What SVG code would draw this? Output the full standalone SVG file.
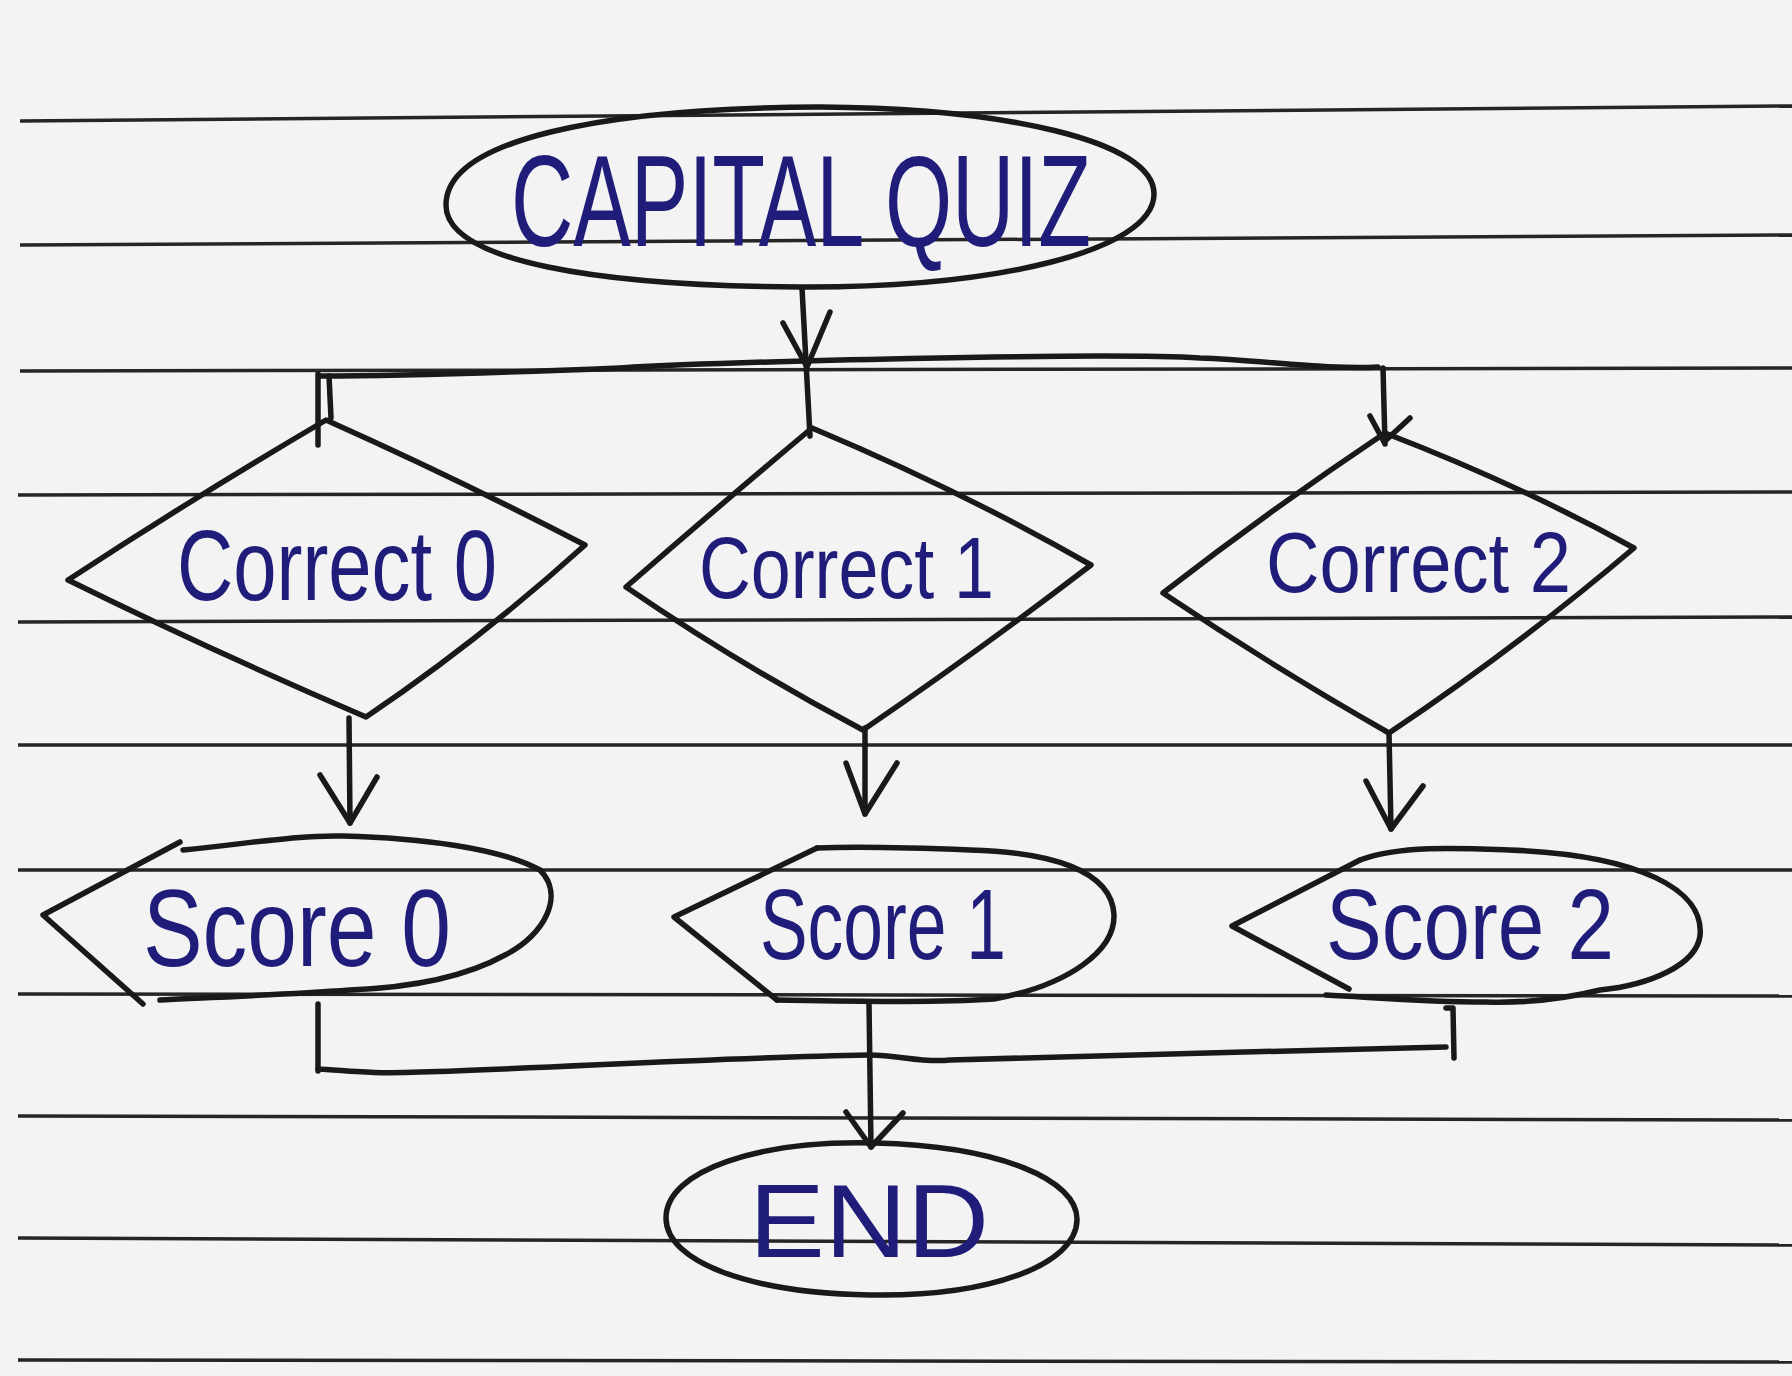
<svg xmlns="http://www.w3.org/2000/svg" width="1792" height="1376" viewBox="0 0 1792 1376">
<style>
.paper{stroke:#262424;stroke-width:3.5;fill:none}
.shape{stroke:#1b1818;stroke-width:5.5;fill:none;stroke-linejoin:round;stroke-linecap:round}
.conn{stroke:#1b1818;stroke-width:5.5;fill:none;stroke-linejoin:round;stroke-linecap:round}
.ink{fill:#1f1c7a;font-family:"Liberation Sans","DejaVu Sans",sans-serif;font-weight:normal}
</style>
<rect width="1792" height="1376" fill="#f3f3f3"/>
<g id="paper-lines">
<path class="paper" d="M20 121 L1792 106"/>
<path class="paper" d="M20 245 L1792 235"/>
<path class="paper" d="M20 371 L1792 368"/>
<path class="paper" d="M18 495 L1792 492"/>
<path class="paper" d="M18 622 L1792 617"/>
<path class="paper" d="M18 745 L1792 745"/>
<path class="paper" d="M18 870 L1792 870"/>
<path class="paper" d="M18 994 L1792 996"/>
<path class="paper" d="M18 1116 L1792 1120"/>
<path class="paper" d="M18 1238 L1792 1245"/>
<path class="paper" d="M18 1360 L1792 1362"/>
</g>
<g id="capital-quiz">
<path class="shape" d="M446 205 C446 140 600 108 820 107 C1000 108 1156 140 1154 195 C1152 250 1000 288 800 287 C600 286 446 262 446 205 Z"/>
<text class="ink" x="511" y="246" font-size="130" textLength="580" lengthAdjust="spacingAndGlyphs">CAPITAL QUIZ</text>
</g>
<g id="correct-0">
<path class="shape" d="M326 420 Q460 480 585 545 Q480 640 366 717 Q210 650 68 580 Q190 500 326 420 Z"/>
<text class="ink" x="177" y="600" font-size="100" textLength="320" lengthAdjust="spacingAndGlyphs">Correct 0</text>
</g>
<g id="correct-1">
<path class="shape" d="M812 428 Q960 490 1091 565 Q980 650 863 730 Q740 665 626 587 Q720 505 812 428 Z"/>
<text class="ink" x="699" y="598" font-size="88" textLength="295" lengthAdjust="spacingAndGlyphs">Correct 1</text>
</g>
<g id="correct-2">
<path class="shape" d="M1385 433 Q1520 485 1634 548 Q1520 645 1389 733 Q1270 665 1163 593 Q1270 510 1385 433 Z"/>
<text class="ink" x="1266" y="592" font-size="85" textLength="305" lengthAdjust="spacingAndGlyphs">Correct 2</text>
</g>
<g id="score-0">
<path class="shape" d="M180 842 L43 915 L143 1004"/>
<path class="shape" d="M183 850 C260 842 300 835 343 836 C420 838 500 848 540 870 C565 895 545 935 505 955 C460 980 400 988 350 990 C280 995 200 998 160 1000"/>
<text class="ink" x="143" y="966" font-size="110" textLength="308" lengthAdjust="spacingAndGlyphs">Score 0</text>
</g>
<g id="score-1">
<path class="shape" d="M817 848 L674 917 L777 1000"/>
<path class="shape" d="M817 848 C870 846 920 848 970 850 C1050 852 1112 870 1114 915 C1115 950 1070 985 994 999 C930 1003 850 1001 777 1000"/>
<text class="ink" x="760" y="959" font-size="100" textLength="246" lengthAdjust="spacingAndGlyphs">Score 1</text>
</g>
<g id="score-2">
<path class="shape" d="M1360 860 L1232 926 L1349 989"/>
<path class="shape" d="M1360 860 C1400 845 1460 848 1509 850 C1640 855 1705 890 1700 936 C1696 965 1650 985 1600 990 C1560 1000 1520 1003 1486 1002 C1420 1002 1370 997 1326 995"/>
<text class="ink" x="1326" y="959" font-size="100" textLength="288" lengthAdjust="spacingAndGlyphs">Score 2</text>
</g>
<g id="end">
<path class="shape" d="M666 1218 C666 1170 760 1140 875 1143 C1000 1146 1078 1180 1077 1220 C1076 1265 990 1297 870 1295 C750 1293 666 1262 666 1218 Z"/>
<text class="ink" x="749" y="1257" font-size="103" textLength="240" lengthAdjust="spacingAndGlyphs">END</text>
</g>
<g id="connectors">
<path class="conn" d="M802 288 L810 436"/>
<path class="conn" d="M783 323 L807 367 L830 312"/>
<path class="conn" d="M320 376 C420 376 520 372 620 368 C720 362 1100 352 1200 358 C1260 360 1330 370 1378 367"/>
<path class="conn" d="M318 374 L318 445"/>
<path class="conn" d="M329 376 L331 418"/>
<path class="conn" d="M1383 368 L1385 444"/>
<path class="conn" d="M1370 416 L1384 442 L1410 418"/>
<path class="conn" d="M349 718 L350 823"/>
<path class="conn" d="M320 775 L350 823 L377 777"/>
<path class="conn" d="M865 728 L865 814"/>
<path class="conn" d="M846 763 L865 814 L897 763"/>
<path class="conn" d="M1389 733 L1391 829"/>
<path class="conn" d="M1366 781 L1391 829 L1423 786"/>
<path class="conn" d="M318 1004 L318 1071"/>
<path class="conn" d="M318 1069 C360 1072 380 1074 420 1072 C560 1068 700 1058 869 1055 C900 1055 920 1063 950 1060 C1100 1056 1300 1050 1446 1047"/>
<path class="conn" d="M1446 1008 L1453 1008 L1454 1058"/>
<path class="conn" d="M869 1003 L871 1147"/>
<path class="conn" d="M846 1112 L871 1147 L903 1113"/>
</g>
</svg>
